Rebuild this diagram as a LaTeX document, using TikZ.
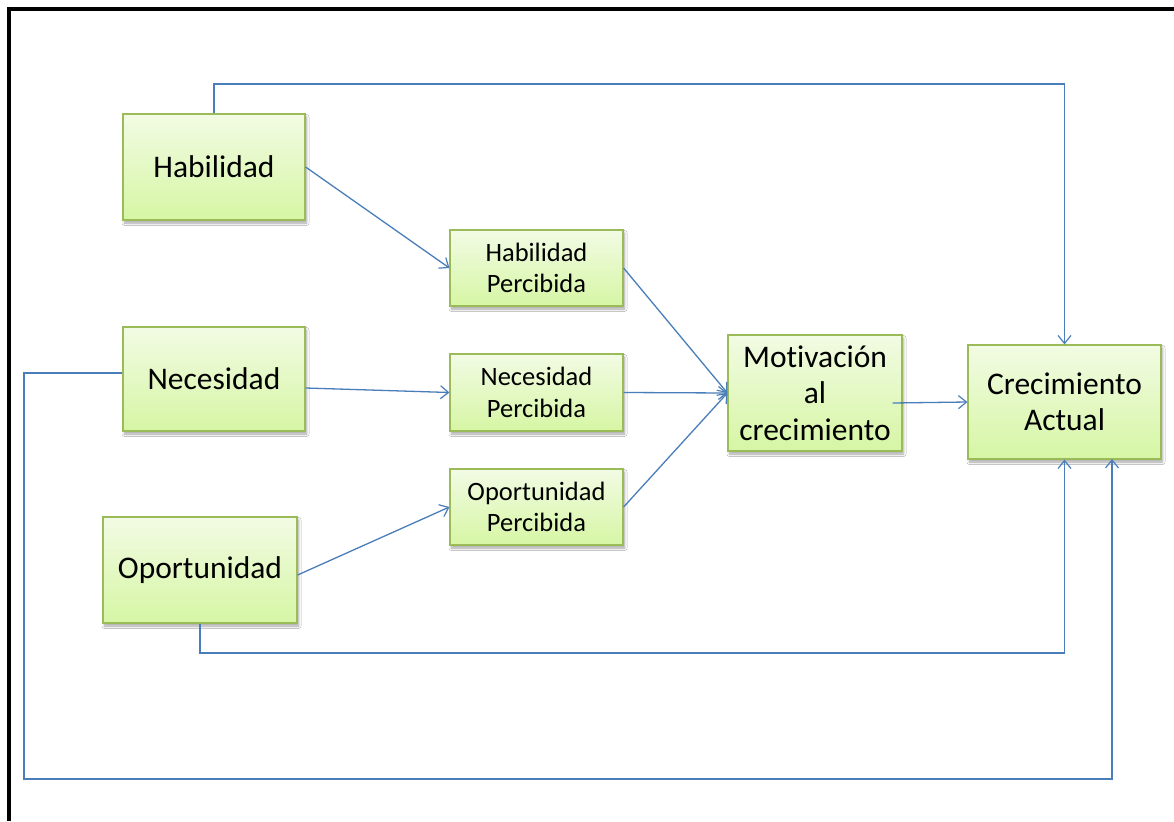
\documentclass[tikz,border=0pt]{standalone}
\usepackage{fontspec}
\setmainfont{Carlito}[Ligatures=NoCommon]
\usetikzlibrary{arrows.meta,shadows.blur}

\definecolor{boxtop}{RGB}{242,251,228}
\definecolor{boxbot}{RGB}{214,246,164}
\definecolor{boxedge}{RGB}{155,187,89}
\definecolor{linkblue}{RGB}{74,126,187}

\tikzset{
  box/.style={draw=boxedge, line width=1.2pt, top color=boxtop, bottom color=boxbot,
    align=center, inner sep=2pt, text=black,
    blur shadow={shadow xshift=1.5pt, shadow yshift=-3pt, shadow blur radius=2.5pt,
      shadow blur steps=6, shadow opacity=35}},
  bigbox/.style={box, font=\fontsize{31.5}{36.5}\selectfont},
  smallbox/.style={box, font=\fontsize{26.5}{31.5}\selectfont},
  link/.style={draw=linkblue, line width=1.3pt,
    -{Straight Barb[length=8pt,width=13pt,line width=1.2pt]}},
}

\begin{document}
\begin{tikzpicture}[x=1pt,y=-1pt]
\useasboundingbox (0,0) rectangle (1174,821);
\fill[white] (0,0) rectangle (1174,821);

% outer frame (runs off the right and bottom edges)
\draw[line width=4pt] (8.5,821) -- (8.5,9.5) -- (1174,9.5);

% boxes
\node[bigbox, minimum width=182pt, minimum height=106pt] (hab) at (214,167) {Habilidad};
\node[bigbox, minimum width=182pt, minimum height=104pt] (nec) at (214,379) {Necesidad};
\node[bigbox, minimum width=194pt, minimum height=106pt] (opo) at (200,570) {Oportunidad};

\node[smallbox, minimum width=173pt, minimum height=76pt] (hp) at (536.5,268) {Habilidad\\Percibida};
\node[smallbox, minimum width=173pt, minimum height=77pt] (np) at (536.5,392.5) {Necesidad\\Percibida};
\node[smallbox, minimum width=173pt, minimum height=76pt] (op) at (536.5,507) {Oportunidad\\Percibida};

\node[bigbox, minimum width=174pt, minimum height=116pt] (mot) at (815,393) {Motivación\\al\\crecimiento};
\node[bigbox, minimum width=193pt, minimum height=114pt] (cre) at (1064.5,402) {Crecimiento\\Actual};

% bend points of the feedback routes
\coordinate (toprt) at (1064.5,84);
\coordinate (oport) at (1064.5,653);
\coordinate (necl) at (24,779);
\coordinate (necr) at (1112,779);
\coordinate (necu) at (1112,459);

% direct paths
\draw[link] (hab.east) -- (hp.west);
\draw[link] ([yshift=-9pt]nec.east) -- (np.west);
\draw[link] ([yshift=-5pt]opo.east) -- (op.west);
\draw[link] (hp.east) -- (mot.west);
\draw[link] (np.east) -- (mot.west);
\draw[link] (op.east) -- (mot.west);
\draw[link] ([shift={(-10pt,-10pt)}]mot.east) -- (cre.west);

% feedback routes into Crecimiento Actual
\draw[link] (hab.north) |- (toprt) -- (cre.north);
\draw[link] (opo.south) |- (oport) -- (cre.south);
\draw[link] ([yshift=6pt]nec.west) -| (necl) -- (necr) -- (necu);
\end{tikzpicture}
\end{document}
